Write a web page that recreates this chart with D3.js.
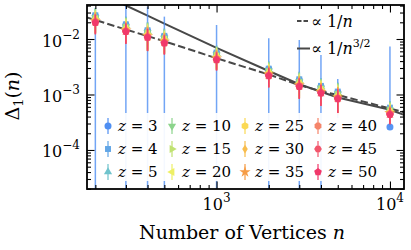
<!DOCTYPE html>
<html>
<head>
<meta charset="utf-8">
<script src="https://cdn.jsdelivr.net/npm/d3@7"></script>
<style>
  body { margin: 0; background: #fff; }
  text { font-family: "DejaVu Serif", serif; fill: #000; }
</style>
</head>
<body>
<svg id="vis-svg"></svg>
<script>
// Number of vertices (x) and the z values of each series
const vertices = [200, 300, 400, 500, 1000, 2000, 3000, 4000, 5000, 10000];
const zLabels = [3, 4, 5, 10, 15, 20, 25, 30, 35, 40, 45, 50];

// Delta_1(n) per z
const delta_z3  = [0.0262, 0.0180, 0.0141, 0.0112, 0.0056, 0.00288, 0.00182, 0.00140, 0.00110, 0.00026];
const delta_z4  = [0.0268, 0.0184, 0.0144, 0.0114, 0.0057, 0.00292, 0.00188, 0.00143, 0.00113, 0.00058];
const delta_z5  = [0.0256, 0.0176, 0.0138, 0.0109, 0.0055, 0.00280, 0.00179, 0.00137, 0.00108, 0.00056];
const delta_z10 = [0.0244, 0.0167, 0.0131, 0.0104, 0.0052, 0.00267, 0.00171, 0.00130, 0.00103, 0.00053];
const delta_z15 = [0.0234, 0.0161, 0.0126, 0.0100, 0.0050, 0.00256, 0.00164, 0.00125, 0.00099, 0.00051];
const delta_z20 = [0.0227, 0.0155, 0.0122, 0.0097, 0.0048, 0.00247, 0.00159, 0.00121, 0.00095, 0.00049];
const delta_z25 = [0.0221, 0.0151, 0.0119, 0.0094, 0.0047, 0.00241, 0.00155, 0.00118, 0.00093, 0.00048];
const delta_z30 = [0.0215, 0.0147, 0.0116, 0.0092, 0.0046, 0.00234, 0.00150, 0.00114, 0.00090, 0.00047];
const delta_z35 = [0.0211, 0.0144, 0.0113, 0.0090, 0.0045, 0.00230, 0.00148, 0.00112, 0.00089, 0.00046];
const delta_z40 = [0.0205, 0.0140, 0.0110, 0.0087, 0.0044, 0.00224, 0.00144, 0.00109, 0.00086, 0.00045];
const delta_z45 = [0.0201, 0.0138, 0.0108, 0.0086, 0.0043, 0.00220, 0.00141, 0.00107, 0.00085, 0.00044];
const delta_z50 = [0.0197, 0.0135, 0.0106, 0.0084, 0.0042, 0.00215, 0.00138, 0.00105, 0.00083, 0.00043];

// z = 3 error bar bounds (lower ones fall below the axis)
const z3Upper = [0.0307, 0.045, 0.0383, 0.0253, 0.0179, 0.0103, 0.0096, 0.00515, 0.0019, 0.0073];
const z3Lower = [1e-6, 1e-6, 1e-6, 1e-6, 1e-6, 1e-6, 1e-6, 1e-6, 0.000375, 0.00026];

// relative errors for the other series
const err_z4  = [0.36, 0.38, 0.40, 0.36, 0.34, 0.36, 0.38, 0.39, 0.45, 0.32];
const err_z5  = [0.40, 0.42, 0.45, 0.40, 0.38, 0.40, 0.42, 0.43, 0.50, 0.35];
const err_z10 = [0.44, 0.46, 0.50, 0.44, 0.42, 0.44, 0.46, 0.47, 0.55, 0.39];
const err_z15 = [0.46, 0.48, 0.52, 0.46, 0.44, 0.46, 0.48, 0.49, 0.57, 0.40];
const err_z20 = [0.44, 0.46, 0.50, 0.44, 0.42, 0.44, 0.46, 0.47, 0.55, 0.39];
const err_z25 = [0.42, 0.44, 0.47, 0.42, 0.40, 0.42, 0.44, 0.45, 0.52, 0.37];
const err_z30 = [0.40, 0.42, 0.45, 0.40, 0.38, 0.40, 0.42, 0.43, 0.50, 0.35];
const err_z35 = [0.42, 0.41, 0.46, 0.41, 0.39, 0.41, 0.43, 0.44, 0.51, 0.36];
const err_z40 = [0.38, 0.40, 0.43, 0.38, 0.36, 0.38, 0.40, 0.41, 0.48, 0.33];
const err_z45 = [0.40, 0.41, 0.44, 0.39, 0.37, 0.39, 0.41, 0.42, 0.49, 0.34];
const err_z50 = [0.38, 0.40, 0.43, 0.38, 0.36, 0.38, 0.40, 0.41, 0.48, 0.33];

// reference curves, read at these n
const lineN = [179, 200, 300, 400, 500, 1000, 2000, 3000, 4000, 5000, 10000, 12050];
const fitInverseN   = [0.0244, 0.0220, 0.0148, 0.0113, 0.0091, 0.0045, 0.00229, 0.00148, 0.00115, 0.00098, 0.00056, 0.00048];
const fitInverseN32 = [0.0857, 0.0729, 0.0402, 0.0264, 0.0189, 0.0069, 0.00265, 0.00153, 0.00112, 0.00088, 0.00053, 0.00043];

// ticks
const xMajorTicks = [1e3, 1e4];
const xTickLabels = ["3", "4"];
const yMajorTicks = [1e-2, 1e-3, 1e-4];
const yTickLabels = ["\u22122", "\u22123", "\u22124"];

const seriesValues = [delta_z3, delta_z4, delta_z5, delta_z10, delta_z15, delta_z20,
    delta_z25, delta_z30, delta_z35, delta_z40, delta_z45, delta_z50];
const seriesErrors = [null, err_z4, err_z5, err_z10, err_z15, err_z20,
    err_z25, err_z30, err_z35, err_z40, err_z45, err_z50];
const seriesColors = ["#4f8ff2", "#62a6e6", "#6fc3cc", "#8cd48c", "#c0e272", "#eef064",
    "#fbd954", "#f8bd4e", "#f69c45", "#f5856a", "#f2566c", "#f0386a"];
const seriesShapes = ["o", "s", "^", "v", ">", "<", "h", "d", "*", "8", "H", "p"];

const margin = { top: 5, right: 7, bottom: 61, left: 87 },
    width = 411 - margin.left - margin.right,
    height = 250 - margin.top - margin.bottom;

const x = d3.scaleLog().domain([179, 12050]).range([0, width]),
    y = d3.scaleLog().domain([1.98e-5, 0.041]).range([height, 0]);

const root = d3.select("#vis-svg")
    .attr("width", 411)
    .attr("height", 250);

const svg = root.append("g")
    .attr("transform", "translate(" + margin.left + "," + margin.top + ")");

svg.append("clipPath").attr("id", "plot-clip")
    .append("rect").attr("width", width).attr("height", height);

const plot = svg.append("g").attr("clip-path", "url(#plot-clip)");

// marker shapes similar to matplotlib ones
function poly(k, r, rot) {
    const pts = d3.range(k).map(i => {
        const a = rot + i * 2 * Math.PI / k;
        return [(r * Math.cos(a)).toFixed(2), (r * Math.sin(a)).toFixed(2)];
    });
    return "M" + pts.join("L") + "Z";
}
function markerPath(shape, s) {
    switch (shape) {
        case "o": return d3.symbol(d3.symbolCircle, Math.PI * s * s)();
        case "s": return poly(4, s * 1.2, Math.PI / 4);
        case "^": return poly(3, s * 1.35, -Math.PI / 2);
        case "v": return poly(3, s * 1.35, Math.PI / 2);
        case ">": return poly(3, s * 1.35, 0);
        case "<": return poly(3, s * 1.35, Math.PI);
        case "h": return poly(6, s * 1.1, -Math.PI / 2);
        case "d": return "M0," + (-s * 1.25) + "L" + (s * 0.8) + ",0L0," + (s * 1.25) + "L" + (-s * 0.8) + ",0Z";
        case "*": return d3.symbol(d3.symbolStar, s * s * 3.2)();
        case "8": return poly(8, s * 1.05, Math.PI / 8);
        case "H": return poly(6, s * 1.1, 0);
        case "p": return poly(5, s * 1.15, -Math.PI / 2);
    }
}

// Draw reference lines
const line = d3.line()
    .x((d, i) => x(lineN[i]))
    .y(d => y(d));

plot.append("path")
    .datum(fitInverseN)
    .attr("d", line)
    .attr("fill", "none")
    .attr("stroke", "#484848")
    .attr("stroke-width", 2)
    .attr("stroke-dasharray", "7.4,3.2");

plot.append("path")
    .datum(fitInverseN32)
    .attr("d", line)
    .attr("fill", "none")
    .attr("stroke", "#484848")
    .attr("stroke-width", 2);

// Draw error bars and markers, series after series
seriesValues.forEach(function (vals, s) {
    const g = plot.append("g");
    const pts = vals.map((v, i) => {
        let lo, hi;
        if (s === 0) { lo = z3Lower[i]; hi = z3Upper[i]; }
        else { lo = v * (1 - seriesErrors[s][i]); hi = v * (1 + seriesErrors[s][i]); }
        return { n: vertices[i], v: v, lo: lo, hi: hi };
    });
    g.selectAll(".bar")
        .data(pts)
        .enter().append("line")
        .attr("x1", d => x(d.n))
        .attr("x2", d => x(d.n))
        .attr("y1", d => y(d.lo))
        .attr("y2", d => y(d.hi))
        .attr("stroke", seriesColors[s])
        .attr("stroke-opacity", 0.8)
        .attr("stroke-width", 1.5);
    g.selectAll(".mark")
        .data(pts)
        .enter().append("path")
        .attr("d", markerPath(seriesShapes[s], 3.5))
        .attr("transform", d => "translate(" + x(d.n) + "," + y(d.v) + ")")
        .attr("fill", seriesColors[s])
        .attr("fill-opacity", 0.95);
});

// Legend of the series (white box)
const legX = [108, 172, 245, 318].map(v => v - margin.left),
    legY = [126, 149, 172].map(v => v - margin.top);

svg.append("rect")
    .attr("x", 97 - margin.left)
    .attr("y", 113 - margin.top)
    .attr("width", 287)
    .attr("height", 68)
    .attr("fill", "#fff")
    .attr("fill-opacity", 0.92);

zLabels.forEach(function (z, s) {
    const cx = legX[Math.floor(s / 3)], cy = legY[s % 3];
    svg.append("line")
        .attr("x1", cx).attr("x2", cx)
        .attr("y1", cy - 8).attr("y2", cy + 8)
        .attr("stroke", seriesColors[s])
        .attr("stroke-opacity", 0.8)
        .attr("stroke-width", 1.5);
    svg.append("path")
        .attr("d", markerPath(seriesShapes[s], 3.5))
        .attr("transform", "translate(" + cx + "," + cy + ")")
        .attr("fill", seriesColors[s]);
    const t = svg.append("text")
        .attr("x", cx + 10)
        .attr("y", cy + 5)
        .style("font-size", "15px");
    t.append("tspan").style("font-style", "italic").text("z");
    t.append("tspan").text(" = " + z);
});

// Legend of the reference lines
const refLeg = [{ y: 21, dash: "4.5,2", sup: null }, { y: 48.5, dash: null, sup: "3/2" }];
refLeg.forEach(function (d) {
    const ly = d.y - margin.top;
    svg.append("line")
        .attr("x1", 297 - margin.left).attr("x2", 310 - margin.left)
        .attr("y1", ly).attr("y2", ly)
        .attr("stroke", "#484848")
        .attr("stroke-width", 2)
        .attr("stroke-dasharray", d.dash);
    const t = svg.append("text")
        .attr("x", 311 - margin.left)
        .attr("y", ly + 5.5)
        .style("font-size", "16px");
    t.append("tspan").text("\u221D 1/");
    t.append("tspan").style("font-style", "italic").text("n");
    if (d.sup) t.append("tspan").attr("dy", -7).style("font-size", "11px").text(d.sup);
});

// Ticks on all four sides, pointing inwards
function minorTicks(lo, hi) {
    const out = [];
    for (let e = Math.floor(Math.log10(lo)); e <= Math.ceil(Math.log10(hi)); e++)
        for (let k = 2; k <= 9; k++) {
            const v = k * Math.pow(10, e);
            if (v > lo && v < hi) out.push(v);
        }
    return out;
}
const xMinor = minorTicks(179, 12050),
    yMinor = minorTicks(1.98e-5, 0.041);

function styleAxis(g) {
    g.select(".domain").remove();
    g.selectAll(".tick text").remove();
    g.selectAll(".tick line").attr("stroke", "#000").attr("stroke-width", 1.1);
}

[[d3.axisBottom, "translate(0," + height + ")"], [d3.axisTop, null]].forEach(function (a) {
    svg.append("g").attr("transform", a[1])
        .call(a[0](x).tickValues(xMajorTicks).tickSize(-7.5)).call(styleAxis);
    svg.append("g").attr("transform", a[1])
        .call(a[0](x).tickValues(xMinor).tickSize(-4)).call(styleAxis);
});
[[d3.axisLeft, null], [d3.axisRight, "translate(" + width + ",0)"]].forEach(function (a) {
    svg.append("g").attr("transform", a[1])
        .call(a[0](y).tickValues(yMajorTicks).tickSize(-7.5)).call(styleAxis);
    svg.append("g").attr("transform", a[1])
        .call(a[0](y).tickValues(yMinor).tickSize(-4)).call(styleAxis);
});

// frame
svg.append("rect")
    .attr("width", width)
    .attr("height", height)
    .attr("fill", "none")
    .attr("stroke", "#000")
    .attr("stroke-width", 1.8);

// tick labels
xMajorTicks.forEach(function (v, i) {
    const t = svg.append("text")
        .attr("x", x(v))
        .attr("y", 209.5 - margin.top)
        .attr("text-anchor", "middle")
        .style("font-size", "16px");
    t.append("tspan").text("10");
    t.append("tspan").attr("dy", -8).style("font-size", "12px").text(xTickLabels[i]);
});
yMajorTicks.forEach(function (v, i) {
    const t = svg.append("text")
        .attr("x", 80 - margin.left)
        .attr("y", y(v) + 7.5)
        .attr("text-anchor", "end")
        .style("font-size", "16px");
    t.append("tspan").text("10");
    t.append("tspan").attr("dy", -8).style("font-size", "12px").text(yTickLabels[i]);
});

// x axis label
const xl = root.append("text")
    .attr("x", 242)
    .attr("y", 239)
    .attr("text-anchor", "middle")
    .style("font-size", "19px");
xl.append("tspan").text("Number of Vertices ");
xl.append("tspan").style("font-style", "italic").text("n");

// y axis label
const yl = root.append("text")
    .attr("transform", "translate(19,96) rotate(-90)")
    .attr("text-anchor", "middle")
    .style("font-size", "19px");
yl.append("tspan").text("\u0394");
yl.append("tspan").attr("dy", 4).style("font-size", "13px").text("1");
yl.append("tspan").attr("dy", -4).text("(");
yl.append("tspan").style("font-style", "italic").text("n");
yl.append("tspan").text(")");
</script>
</body>
</html>
